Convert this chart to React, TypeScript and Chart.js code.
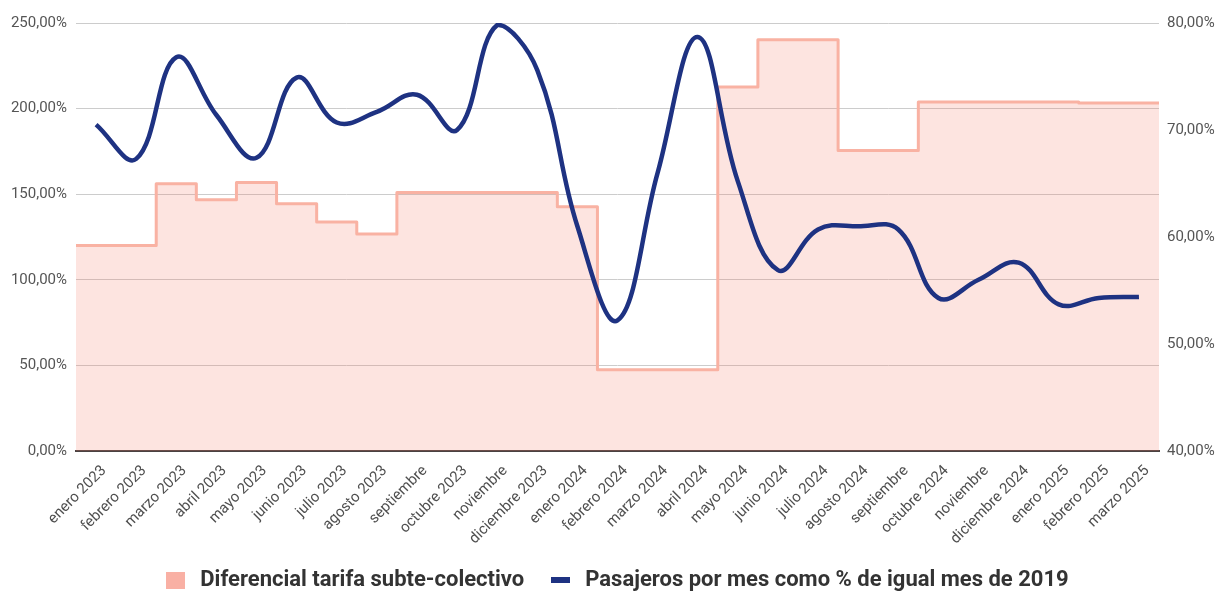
import React, { useEffect, useRef } from 'react';
import { Chart, registerables } from 'chart.js';

Chart.register(...registerables);

const months = [
  'enero 2023', 'febrero 2023', 'marzo 2023', 'abril 2023', 'mayo 2023', 'junio 2023',
  'julio 2023', 'agosto 2023', 'septiembre', 'octubre 2023', 'noviembre', 'diciembre 2023',
  'enero 2024', 'febrero 2024', 'marzo 2024', 'abril 2024', 'mayo 2024', 'junio 2024',
  'julio 2024', 'agosto 2024', 'septiembre', 'octubre 2024', 'noviembre', 'diciembre 2024',
  'enero 2025', 'febrero 2025', 'marzo 2025',
];

// Left axis (%): fare differential subway vs bus
const diferencialTarifa = [
  120, 120, 156.1, 146.7, 156.8, 144.4, 133.7, 126.8, 151, 151, 151, 151,
  142.7, 47.5, 47.5, 47.5, 212.6, 240.2, 240.2, 175.5, 175.5, 203.8, 203.8, 203.8,
  203.8, 203.2, 203.2,
];

// Right axis (%): passengers per month as % of same month 2019
const pasajeros = [
  70.5, 67.3, 76.8, 71.4, 67.4, 74.9, 70.7, 71.7, 73.3, 70.0, 79.8, 75.6,
  61.0, 52.2, 66.0, 78.7, 65.2, 56.9, 60.7, 61.0, 60.7, 54.3, 56.0, 57.6,
  53.7, 54.3, 54.4,
];

const seriesNames = [
  'Diferencial tarifa subte-colectivo',
  'Pasajeros por mes como % de igual mes de 2019',
];

const leftTicks = { min: 0, max: 250, step: 50 };
const rightTicks = { min: 40, max: 80, step: 10 };

const PINK_LINE = '#f9b2a3';
const PINK_FILL = 'rgba(245,120,100,0.2)';
const NAVY = '#1e3282';

const fmt = (v: number) => v.toFixed(2).replace('.', ',') + '%';

function makeSwatch(w: number, h: number, color: string): HTMLCanvasElement {
  const c = document.createElement('canvas');
  c.width = w;
  c.height = h;
  const ctx = c.getContext('2d')!;
  ctx.fillStyle = color;
  ctx.fillRect(0, 0, w, h);
  return c;
}

// Shift the legend a little to the right
const legendShift = {
  id: 'legendShift',
  afterLayout(chart: any) {
    if (chart.legend) {
      chart.legend.left += 6;
      chart.legend.right += 6;
    }
  },
};

export default function App() {
  const ref = useRef<HTMLCanvasElement | null>(null);

  useEffect(() => {
    if (!ref.current) return;
    const n = months.length;
    const stepData = diferencialTarifa
      .map((v, i) => ({ x: i - 0.5, y: v }))
      .concat([{ x: n - 0.5, y: diferencialTarifa[n - 1] }]);

    const pinkSwatch = makeSwatch(19, 17, '#f9b0a4');
    const navySwatch = makeSwatch(19, 6, NAVY);

    const chart = new Chart(ref.current, {
      type: 'line',
      data: {
        labels: months,
        datasets: [
          {
            label: seriesNames[0],
            data: stepData as any,
            xAxisID: 'x2',
            yAxisID: 'y',
            stepped: true,
            fill: 'origin',
            backgroundColor: PINK_FILL,
            borderColor: PINK_LINE,
            borderWidth: 3,
            borderJoinStyle: 'round',
            pointRadius: 0,
            order: 2,
          } as any,
          {
            label: seriesNames[1],
            data: pasajeros,
            xAxisID: 'x',
            yAxisID: 'y1',
            borderColor: NAVY,
            backgroundColor: NAVY,
            borderWidth: 4.5,
            tension: 0.4,
            fill: false,
            pointRadius: 0,
            order: 1,
          } as any,
        ],
      },
      plugins: [legendShift],
      options: {
        responsive: false,
        animation: false,
        layout: { padding: { top: 23, bottom: -10, left: 0, right: 0 } },
        plugins: {
          tooltip: { enabled: false },
          legend: {
            position: 'bottom',
            labels: {
              usePointStyle: true,
              pointStyleWidth: 27,
              boxHeight: 18,
              padding: 23,
              color: '#333333',
              font: { family: 'Roboto', size: 22, weight: 'bold' },
              generateLabels: () => [
                {
                  text: seriesNames[0],
                  pointStyle: pinkSwatch as any,
                  fillStyle: PINK_LINE,
                  strokeStyle: PINK_LINE,
                  lineWidth: 0,
                  hidden: false,
                  datasetIndex: 0,
                  fontColor: '#333333',
                },
                {
                  text: seriesNames[1],
                  pointStyle: navySwatch as any,
                  fillStyle: NAVY,
                  strokeStyle: NAVY,
                  lineWidth: 0,
                  hidden: false,
                  datasetIndex: 1,
                  fontColor: '#333333',
                },
              ],
            },
          },
        },
        scales: {
          x: {
            type: 'category',
            offset: true,
            grid: { display: false, drawTicks: false, tickLength: 0 },
            border: { display: true, color: '#4a4242', width: 2 },
            ticks: {
              autoSkip: false,
              minRotation: 45,
              maxRotation: 45,
              padding: 11,
              labelOffset: 8,
              color: '#4f4f4f',
              font: { family: 'Roboto', size: 15 },
            },
            afterFit: (s: any) => { s.height = 95; },
          },
          x2: {
            type: 'linear',
            display: false,
            min: -0.5,
            max: months.length - 0.5,
          },
          y: {
            type: 'linear',
            position: 'left',
            min: leftTicks.min,
            max: leftTicks.max,
            grid: { color: '#cccccc', lineWidth: 1, drawTicks: false, tickLength: 0 },
            border: { display: false },
            ticks: {
              stepSize: leftTicks.step,
              padding: 9,
              color: '#555555',
              font: { family: 'Roboto', size: 15 },
              callback: (v: any) => fmt(Number(v)),
            },
            afterFit: (s: any) => { s.width = 76; },
          },
          y1: {
            type: 'linear',
            position: 'right',
            min: rightTicks.min,
            max: rightTicks.max,
            grid: { display: false, drawTicks: false, tickLength: 0 },
            border: { display: false },
            ticks: {
              stepSize: rightTicks.step,
              padding: 8,
              color: '#555555',
              font: { family: 'Roboto', size: 15 },
              callback: (v: any) => fmt(Number(v)),
            },
            afterFit: (s: any) => { s.width = 60; },
          },
        },
      } as any,
    });
    return () => chart.destroy();
  }, []);

  return (
    <div style={{ position: 'absolute', left: 0, top: 0, width: 1219, height: 591, background: '#fff' }}>
      <canvas ref={ref} width={1219} height={591} />
    </div>
  );
}
